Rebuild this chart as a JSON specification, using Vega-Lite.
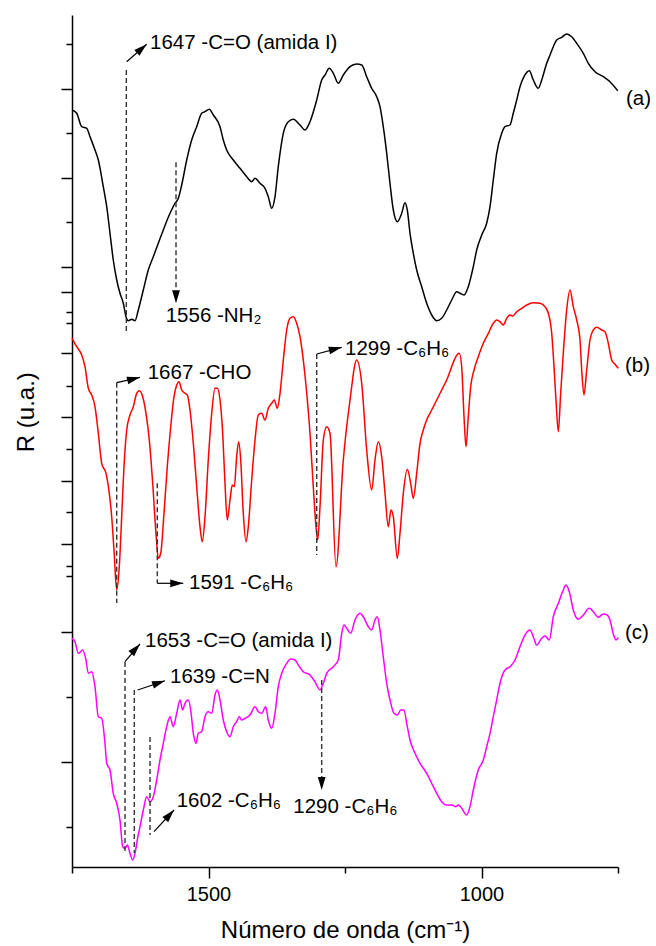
{
  "$schema": "https://vega.github.io/schema/vega-lite/v6.json",
  "width": 546,
  "height": 852,
  "autosize": {"type": "none"},
  "padding": {"left": 72, "top": 15, "right": 38, "bottom": 79},
  "background": "white",
  "config": {"view": {"stroke": null}, "font": "Liberation Sans"},
  "datasets": {
    "spectra": [
      {"s":"a","wn":1750,"R":757},{"s":"a","wn":1741.4,"R":753.7},{"s":"a","wn":1732.2,"R":740.3},{"s":"a","wn":1723.1,"R":738.7},{"s":"a","wn":1717,"R":730.3},{"s":"a","wn":1707.9,"R":717},{"s":"a","wn":1701.8,"R":707},{"s":"a","wn":1692.7,"R":680.3},{"s":"a","wn":1686.4,"R":660.3},{"s":"a","wn":1680.4,"R":633.7},{"s":"a","wn":1674.4,"R":607},{"s":"a","wn":1668.1,"R":587},{"s":"a","wn":1662.1,"R":573.7},{"s":"a","wn":1656,"R":563.7},{"s":"a","wn":1651.1,"R":550.3},{"s":"a","wn":1646.9,"R":546.3},{"s":"a","wn":1640.7,"R":547.7},{"s":"a","wn":1634.6,"R":546.3},{"s":"a","wn":1628.6,"R":557},{"s":"a","wn":1619.4,"R":577},{"s":"a","wn":1610.3,"R":597},{"s":"a","wn":1601.1,"R":610.3},{"s":"a","wn":1591.9,"R":623.7},{"s":"a","wn":1582.8,"R":637},{"s":"a","wn":1570.5,"R":653.7},{"s":"a","wn":1561.4,"R":663.7},{"s":"a","wn":1555.3,"R":668.7},{"s":"a","wn":1549.1,"R":682},{"s":"a","wn":1539.9,"R":707},{"s":"a","wn":1530.8,"R":727},{"s":"a","wn":1521.6,"R":740.3},{"s":"a","wn":1512.5,"R":753.7},{"s":"a","wn":1506.4,"R":755.3},{"s":"a","wn":1498.5,"R":757.7},{"s":"a","wn":1491.2,"R":752},{"s":"a","wn":1478.9,"R":740.3},{"s":"a","wn":1472.9,"R":727},{"s":"a","wn":1466.7,"R":717},{"s":"a","wn":1454.6,"R":707},{"s":"a","wn":1442.3,"R":698.7},{"s":"a","wn":1430,"R":690.3},{"s":"a","wn":1420.9,"R":685.3},{"s":"a","wn":1414.8,"R":688.7},{"s":"a","wn":1405.7,"R":683.7},{"s":"a","wn":1396.5,"R":678.7},{"s":"a","wn":1390.5,"R":670.3},{"s":"a","wn":1384.2,"R":658.7},{"s":"a","wn":1378.2,"R":670.3},{"s":"a","wn":1372.2,"R":700.3},{"s":"a","wn":1363,"R":733.7},{"s":"a","wn":1353.8,"R":745.3},{"s":"a","wn":1344.7,"R":747.7},{"s":"a","wn":1332.4,"R":742},{"s":"a","wn":1323.3,"R":737},{"s":"a","wn":1314.1,"R":745.3},{"s":"a","wn":1301.8,"R":767},{"s":"a","wn":1292.7,"R":787},{"s":"a","wn":1286.6,"R":792},{"s":"a","wn":1278.8,"R":798.7},{"s":"a","wn":1271.4,"R":793.7},{"s":"a","wn":1262.3,"R":783.7},{"s":"a","wn":1253.1,"R":792},{"s":"a","wn":1240.8,"R":800.3},{"s":"a","wn":1228.6,"R":803},{"s":"a","wn":1219.4,"R":802},{"s":"a","wn":1210.3,"R":790.3},{"s":"a","wn":1201.1,"R":778.7},{"s":"a","wn":1191.9,"R":770.3},{"s":"a","wn":1185.9,"R":760.3},{"s":"a","wn":1179.9,"R":740.3},{"s":"a","wn":1173.6,"R":713.7},{"s":"a","wn":1167.6,"R":683.7},{"s":"a","wn":1161.5,"R":657},{"s":"a","wn":1154.2,"R":645.3},{"s":"a","wn":1146.2,"R":653.7},{"s":"a","wn":1140.1,"R":664.3},{"s":"a","wn":1135.9,"R":657},{"s":"a","wn":1130.9,"R":633.7},{"s":"a","wn":1124.9,"R":613.7},{"s":"a","wn":1118.7,"R":597},{"s":"a","wn":1109.5,"R":580.3},{"s":"a","wn":1100.4,"R":563.7},{"s":"a","wn":1091.2,"R":552},{"s":"a","wn":1082,"R":546.3},{"s":"a","wn":1072.9,"R":548.7},{"s":"a","wn":1063.7,"R":557},{"s":"a","wn":1054.6,"R":567},{"s":"a","wn":1045.4,"R":575.3},{"s":"a","wn":1039.4,"R":573.7},{"s":"a","wn":1032,"R":572},{"s":"a","wn":1024.2,"R":580.3},{"s":"a","wn":1015,"R":600.3},{"s":"a","wn":1008.8,"R":617},{"s":"a","wn":999.6,"R":632},{"s":"a","wn":990.5,"R":643.7},{"s":"a","wn":984.4,"R":660.3},{"s":"a","wn":978.4,"R":687},{"s":"a","wn":972.2,"R":713.7},{"s":"a","wn":963,"R":733.7},{"s":"a","wn":957,"R":740.3},{"s":"a","wn":947.8,"R":742},{"s":"a","wn":941.8,"R":753.7},{"s":"a","wn":935.5,"R":767},{"s":"a","wn":929.5,"R":780.3},{"s":"a","wn":922.2,"R":790.3},{"s":"a","wn":912.4,"R":796.3},{"s":"a","wn":905.1,"R":787},{"s":"a","wn":896,"R":778.7},{"s":"a","wn":889.7,"R":787},{"s":"a","wn":880.6,"R":803.7},{"s":"a","wn":874.5,"R":812},{"s":"a","wn":868.5,"R":820.3},{"s":"a","wn":862.3,"R":827},{"s":"a","wn":853.1,"R":829.7},{"s":"a","wn":844,"R":833},{"s":"a","wn":834.8,"R":830.3},{"s":"a","wn":825.6,"R":823.7},{"s":"a","wn":813.5,"R":813.7},{"s":"a","wn":804.4,"R":803.7},{"s":"a","wn":792.1,"R":795.3},{"s":"a","wn":776.9,"R":790.3},{"s":"a","wn":764.7,"R":785.3},{"s":"a","wn":750.5,"R":776.3},
      {"s":"b","wn":1750,"R":528.7},{"s":"b","wn":1741.4,"R":520.3},{"s":"b","wn":1732.2,"R":512},{"s":"b","wn":1726.2,"R":500.3},{"s":"b","wn":1720.1,"R":478.7},{"s":"b","wn":1713.9,"R":472},{"s":"b","wn":1707.9,"R":460.3},{"s":"b","wn":1701.8,"R":433.7},{"s":"b","wn":1695.6,"R":403.7},{"s":"b","wn":1687.7,"R":393.7},{"s":"b","wn":1681.7,"R":373.7},{"s":"b","wn":1677.3,"R":350.3},{"s":"b","wn":1673.1,"R":317},{"s":"b","wn":1668.1,"R":277},{"s":"b","wn":1663.4,"R":300.3},{"s":"b","wn":1659,"R":350.3},{"s":"b","wn":1654.8,"R":400.3},{"s":"b","wn":1649.8,"R":437},{"s":"b","wn":1643.8,"R":452},{"s":"b","wn":1637.7,"R":460.3},{"s":"b","wn":1631.5,"R":473.7},{"s":"b","wn":1626.7,"R":476.3},{"s":"b","wn":1620.5,"R":470.3},{"s":"b","wn":1614.5,"R":453.7},{"s":"b","wn":1608.4,"R":427},{"s":"b","wn":1602.2,"R":383.7},{"s":"b","wn":1596.2,"R":333.7},{"s":"b","wn":1591.9,"R":308.7},{"s":"b","wn":1587.5,"R":313.7},{"s":"b","wn":1581.5,"R":353.7},{"s":"b","wn":1575.5,"R":400.3},{"s":"b","wn":1569.2,"R":440.3},{"s":"b","wn":1563.2,"R":470.3},{"s":"b","wn":1558.2,"R":482},{"s":"b","wn":1554,"R":485.3},{"s":"b","wn":1549.1,"R":477},{"s":"b","wn":1543,"R":473.7},{"s":"b","wn":1538.8,"R":472},{"s":"b","wn":1533.9,"R":457},{"s":"b","wn":1527.8,"R":423.7},{"s":"b","wn":1521.6,"R":380.3},{"s":"b","wn":1515.6,"R":340.3},{"s":"b","wn":1511.4,"R":325.3},{"s":"b","wn":1506.4,"R":350.3},{"s":"b","wn":1500.4,"R":407},{"s":"b","wn":1494.1,"R":453.7},{"s":"b","wn":1488.1,"R":478.7},{"s":"b","wn":1483.9,"R":478.7},{"s":"b","wn":1478.9,"R":467},{"s":"b","wn":1474,"R":433.7},{"s":"b","wn":1469.8,"R":383.7},{"s":"b","wn":1465.6,"R":347},{"s":"b","wn":1460.6,"R":367},{"s":"b","wn":1456.4,"R":382},{"s":"b","wn":1452.7,"R":380.3},{"s":"b","wn":1448.4,"R":410.3},{"s":"b","wn":1444.7,"R":425.3},{"s":"b","wn":1441,"R":407},{"s":"b","wn":1436.3,"R":353.7},{"s":"b","wn":1431.3,"R":325.3},{"s":"b","wn":1427.1,"R":340.3},{"s":"b","wn":1420.9,"R":387},{"s":"b","wn":1414.8,"R":427},{"s":"b","wn":1408.8,"R":452},{"s":"b","wn":1402.6,"R":453.7},{"s":"b","wn":1396.5,"R":447},{"s":"b","wn":1390.5,"R":458.7},{"s":"b","wn":1384.2,"R":463.7},{"s":"b","wn":1379.5,"R":467},{"s":"b","wn":1374,"R":458.7},{"s":"b","wn":1369,"R":473.7},{"s":"b","wn":1363,"R":507},{"s":"b","wn":1356.8,"R":537},{"s":"b","wn":1350.7,"R":548.7},{"s":"b","wn":1344.7,"R":550.3},{"s":"b","wn":1338.5,"R":543.7},{"s":"b","wn":1332.4,"R":530.3},{"s":"b","wn":1326.4,"R":507},{"s":"b","wn":1320.1,"R":473.7},{"s":"b","wn":1314.1,"R":433.7},{"s":"b","wn":1308.1,"R":380.3},{"s":"b","wn":1303.1,"R":340.3},{"s":"b","wn":1300,"R":327},{"s":"b","wn":1295.8,"R":360.3},{"s":"b","wn":1289.7,"R":427},{"s":"b","wn":1283.5,"R":440.3},{"s":"b","wn":1277.5,"R":433.7},{"s":"b","wn":1266.5,"R":300.3},{"s":"b","wn":1253.1,"R":407},{"s":"b","wn":1240.8,"R":467},{"s":"b","wn":1228.6,"R":507},{"s":"b","wn":1219.4,"R":483.7},{"s":"b","wn":1210.3,"R":417},{"s":"b","wn":1201.1,"R":377},{"s":"b","wn":1195.1,"R":407},{"s":"b","wn":1189,"R":425.3},{"s":"b","wn":1182.8,"R":410.3},{"s":"b","wn":1176.7,"R":373.7},{"s":"b","wn":1170.7,"R":340.3},{"s":"b","wn":1165.8,"R":357},{"s":"b","wn":1161.5,"R":350.3},{"s":"b","wn":1154.2,"R":308.7},{"s":"b","wn":1149.3,"R":333.7},{"s":"b","wn":1143.2,"R":373.7},{"s":"b","wn":1135.9,"R":397.7},{"s":"b","wn":1129.7,"R":383.7},{"s":"b","wn":1124.9,"R":368.7},{"s":"b","wn":1118.7,"R":393.7},{"s":"b","wn":1112.6,"R":423.7},{"s":"b","wn":1106.6,"R":437},{"s":"b","wn":1100.4,"R":447},{"s":"b","wn":1091.2,"R":457},{"s":"b","wn":1082,"R":467},{"s":"b","wn":1072.9,"R":477},{"s":"b","wn":1063.7,"R":487},{"s":"b","wn":1054.6,"R":500.3},{"s":"b","wn":1048.5,"R":508.7},{"s":"b","wn":1040.7,"R":513.7},{"s":"b","wn":1036.3,"R":500.3},{"s":"b","wn":1032,"R":450.3},{"s":"b","wn":1028.4,"R":420.3},{"s":"b","wn":1024.2,"R":450.3},{"s":"b","wn":1019.8,"R":480.3},{"s":"b","wn":1013.7,"R":497},{"s":"b","wn":1005.9,"R":510.3},{"s":"b","wn":996.7,"R":523.7},{"s":"b","wn":987.5,"R":533.7},{"s":"b","wn":978.4,"R":543.7},{"s":"b","wn":972.2,"R":547},{"s":"b","wn":966.1,"R":545.3},{"s":"b","wn":960.1,"R":542},{"s":"b","wn":953.8,"R":548.7},{"s":"b","wn":947.8,"R":552},{"s":"b","wn":942.8,"R":551},{"s":"b","wn":935.5,"R":555.3},{"s":"b","wn":926.4,"R":558.7},{"s":"b","wn":917.2,"R":562},{"s":"b","wn":905.1,"R":564.3},{"s":"b","wn":892.9,"R":563.7},{"s":"b","wn":883.7,"R":560.3},{"s":"b","wn":877.6,"R":553.7},{"s":"b","wn":871.4,"R":533.7},{"s":"b","wn":867.2,"R":500.3},{"s":"b","wn":863.6,"R":467},{"s":"b","wn":859.3,"R":435.3},{"s":"b","wn":855,"R":473.7},{"s":"b","wn":850.2,"R":513.7},{"s":"b","wn":844,"R":557},{"s":"b","wn":837.9,"R":577},{"s":"b","wn":831.9,"R":560.3},{"s":"b","wn":825.6,"R":547},{"s":"b","wn":819.6,"R":527},{"s":"b","wn":816.5,"R":497},{"s":"b","wn":812.3,"R":472},{"s":"b","wn":807.3,"R":497},{"s":"b","wn":801.3,"R":527},{"s":"b","wn":795.2,"R":537},{"s":"b","wn":789,"R":539.7},{"s":"b","wn":779.8,"R":537},{"s":"b","wn":773.8,"R":535.3},{"s":"b","wn":767.8,"R":523.7},{"s":"b","wn":761.5,"R":507},{"s":"b","wn":755.5,"R":502.7},{"s":"b","wn":749.4,"R":498.7},
      {"s":"c","wn":1750,"R":228.7},{"s":"c","wn":1744.5,"R":225.3},{"s":"c","wn":1738.5,"R":213.7},{"s":"c","wn":1730.4,"R":217},{"s":"c","wn":1724.4,"R":207},{"s":"c","wn":1720.1,"R":193.7},{"s":"c","wn":1713.9,"R":195.3},{"s":"c","wn":1707.9,"R":180.3},{"s":"c","wn":1701.8,"R":150.3},{"s":"c","wn":1695.6,"R":148.7},{"s":"c","wn":1689.6,"R":123.7},{"s":"c","wn":1686.4,"R":103.7},{"s":"c","wn":1680.4,"R":97},{"s":"c","wn":1674.4,"R":73.7},{"s":"c","wn":1668.1,"R":63.7},{"s":"c","wn":1662.1,"R":47},{"s":"c","wn":1657.1,"R":20.3},{"s":"c","wn":1652.9,"R":18.7},{"s":"c","wn":1648.7,"R":22},{"s":"c","wn":1643.8,"R":13.7},{"s":"c","wn":1638.8,"R":7},{"s":"c","wn":1634.6,"R":13.7},{"s":"c","wn":1630.4,"R":27},{"s":"c","wn":1625.5,"R":40.3},{"s":"c","wn":1619.4,"R":57},{"s":"c","wn":1613.2,"R":70.3},{"s":"c","wn":1607.1,"R":65.3},{"s":"c","wn":1601.1,"R":70.3},{"s":"c","wn":1594.9,"R":87},{"s":"c","wn":1588.8,"R":107},{"s":"c","wn":1582.8,"R":123.7},{"s":"c","wn":1576.6,"R":140.3},{"s":"c","wn":1570.5,"R":150.3},{"s":"c","wn":1564.5,"R":140.3},{"s":"c","wn":1558.2,"R":153.7},{"s":"c","wn":1552.2,"R":167},{"s":"c","wn":1547.3,"R":157},{"s":"c","wn":1543,"R":163.7},{"s":"c","wn":1537,"R":167},{"s":"c","wn":1532.6,"R":157},{"s":"c","wn":1527.8,"R":133.7},{"s":"c","wn":1522.9,"R":123.7},{"s":"c","wn":1518.7,"R":133.7},{"s":"c","wn":1512.5,"R":135.3},{"s":"c","wn":1506.4,"R":150.3},{"s":"c","wn":1500.4,"R":155.3},{"s":"c","wn":1494.1,"R":153.7},{"s":"c","wn":1488.1,"R":172},{"s":"c","wn":1483.9,"R":177},{"s":"c","wn":1478.9,"R":167},{"s":"c","wn":1472.9,"R":147},{"s":"c","wn":1466.7,"R":135.3},{"s":"c","wn":1460.6,"R":130.3},{"s":"c","wn":1454.6,"R":140.3},{"s":"c","wn":1448.4,"R":145.3},{"s":"c","wn":1443.6,"R":150.3},{"s":"c","wn":1439.2,"R":147},{"s":"c","wn":1433.2,"R":148.7},{"s":"c","wn":1424,"R":152},{"s":"c","wn":1414.8,"R":160.3},{"s":"c","wn":1408.8,"R":155.3},{"s":"c","wn":1402.6,"R":153.7},{"s":"c","wn":1395.2,"R":160.3},{"s":"c","wn":1390.5,"R":147},{"s":"c","wn":1384.2,"R":138.7},{"s":"c","wn":1378.2,"R":153.7},{"s":"c","wn":1372.2,"R":180.3},{"s":"c","wn":1365.9,"R":193.7},{"s":"c","wn":1356.8,"R":203.7},{"s":"c","wn":1349.5,"R":208},{"s":"c","wn":1341.6,"R":207},{"s":"c","wn":1335.5,"R":202},{"s":"c","wn":1326.4,"R":195.3},{"s":"c","wn":1314.1,"R":192},{"s":"c","wn":1305,"R":185.3},{"s":"c","wn":1295.8,"R":177},{"s":"c","wn":1289.7,"R":183.7},{"s":"c","wn":1283.5,"R":193.7},{"s":"c","wn":1271.4,"R":200.3},{"s":"c","wn":1262.3,"R":207},{"s":"c","wn":1256,"R":233.7},{"s":"c","wn":1251.8,"R":242},{"s":"c","wn":1246.9,"R":238.7},{"s":"c","wn":1239.6,"R":233.7},{"s":"c","wn":1231.7,"R":247},{"s":"c","wn":1222.5,"R":253.7},{"s":"c","wn":1216.5,"R":250.3},{"s":"c","wn":1207.3,"R":240.3},{"s":"c","wn":1201.1,"R":237},{"s":"c","wn":1195.1,"R":247},{"s":"c","wn":1190.8,"R":250.3},{"s":"c","wn":1185.9,"R":237},{"s":"c","wn":1179.9,"R":210.3},{"s":"c","wn":1173.6,"R":183.7},{"s":"c","wn":1167.6,"R":167},{"s":"c","wn":1160.3,"R":153.7},{"s":"c","wn":1154.2,"R":152},{"s":"c","wn":1148,"R":157},{"s":"c","wn":1141.9,"R":157},{"s":"c","wn":1137,"R":143.7},{"s":"c","wn":1130.9,"R":127},{"s":"c","wn":1121.8,"R":113.7},{"s":"c","wn":1112.6,"R":103.7},{"s":"c","wn":1100.4,"R":93.7},{"s":"c","wn":1091.2,"R":83.7},{"s":"c","wn":1082,"R":73.7},{"s":"c","wn":1072.9,"R":65.3},{"s":"c","wn":1063.7,"R":62},{"s":"c","wn":1054.6,"R":62},{"s":"c","wn":1046.7,"R":60.3},{"s":"c","wn":1042.5,"R":62},{"s":"c","wn":1036.3,"R":58.7},{"s":"c","wn":1027.1,"R":52},{"s":"c","wn":1021.1,"R":60.3},{"s":"c","wn":1015,"R":77},{"s":"c","wn":1005.9,"R":97},{"s":"c","wn":996.7,"R":107},{"s":"c","wn":990.5,"R":120.3},{"s":"c","wn":984.4,"R":133.7},{"s":"c","wn":978.4,"R":150.3},{"s":"c","wn":972.2,"R":167},{"s":"c","wn":966.1,"R":183.7},{"s":"c","wn":957,"R":197},{"s":"c","wn":947.8,"R":200.3},{"s":"c","wn":938.6,"R":207},{"s":"c","wn":929.5,"R":220.3},{"s":"c","wn":920.3,"R":232},{"s":"c","wn":911.2,"R":237},{"s":"c","wn":905.1,"R":230.3},{"s":"c","wn":898.9,"R":222},{"s":"c","wn":889.7,"R":228.7},{"s":"c","wn":883.7,"R":231},{"s":"c","wn":875.8,"R":227},{"s":"c","wn":868.5,"R":250.3},{"s":"c","wn":859.3,"R":263.7},{"s":"c","wn":850.2,"R":277},{"s":"c","wn":845.2,"R":282},{"s":"c","wn":839.2,"R":275.3},{"s":"c","wn":831.9,"R":257},{"s":"c","wn":822.7,"R":247.7},{"s":"c","wn":813.5,"R":252},{"s":"c","wn":802.6,"R":258.7},{"s":"c","wn":795.2,"R":255.3},{"s":"c","wn":786.1,"R":249.7},{"s":"c","wn":776.9,"R":253},{"s":"c","wn":769.6,"R":252},{"s":"c","wn":764.7,"R":247},{"s":"c","wn":759.7,"R":235.3},{"s":"c","wn":753.7,"R":227},{"s":"c","wn":749.4,"R":229.7}
    ],
    "dashes": [
      {"wn":1650.5,"top":797,"bottom":534},
      {"wn":1559.5,"top":704.7,"bottom":577},
      {"wn":1668.1,"top":484.3,"bottom":264},
      {"wn":1593.8,"top":383.7,"bottom":283.7},
      {"wn":1301.8,"top":513,"bottom":312},
      {"wn":1652.9,"top":205,"bottom":14},
      {"wn":1635.9,"top":177,"bottom":14},
      {"wn":1607.1,"top":130,"bottom":32},
      {"wn":1292.7,"top":187,"bottom":90}
    ],
    "shafts": [
      {"wn":1649.9,"R":805.3,"wn2":1613.2,"R2":822.7},
      {"wn":1668.2,"R":484.3,"wn2":1625.5,"R2":489.7},
      {"wn":1593.8,"R":283.7,"wn2":1546.2,"R2":283.7},
      {"wn":1301.8,"R":513,"wn2":1256,"R2":519.7},
      {"wn":1652.9,"R":205.3,"wn2":1625.5,"R2":223},
      {"wn":1629.7,"R":177,"wn2":1579.7,"R2":186.3},
      {"wn":1599.8,"R":35.3,"wn2":1563.2,"R2":57}
    ],
    "heads": [
      {"id":"h1","wn":1613.2,"R":822.7},
      {"id":"h2","wn":1559.5,"R":563.7},
      {"id":"h3","wn":1625.5,"R":489.7},
      {"id":"h4","wn":1546.2,"R":283.7},
      {"id":"h5","wn":1256,"R":519.7},
      {"id":"h6","wn":1625.5,"R":223},
      {"id":"h7","wn":1579.7,"R":186.3},
      {"id":"h8","wn":1563.2,"R":57},
      {"id":"h9","wn":1292.7,"R":77}
    ],
    "labels": [
      {"wn":1607.1,"R":823.7,"label":"1647 -C=O (amida I)"},
      {"wn":1578.4,"R":551.5,"label":"1556 -NH₂"},
      {"wn":1611.4,"R":494.5,"label":"1667 -CHO"},
      {"wn":1535.7,"R":283.7,"label":"1591 -C₆H₆"},
      {"wn":1250,"R":518,"label":"1299 -C₆H₆"},
      {"wn":1616.3,"R":226,"label":"1653 -C=O (amida I)"},
      {"wn":1570.5,"R":190.3,"label":"1639 -C=N"},
      {"wn":1558.2,"R":66,"label":"1602 -C₆H₆"},
      {"wn":1344.7,"R":60.3,"label":"1290 -C₆H₆"},
      {"wn":735.3,"R":768,"label":"(a)"},
      {"wn":737.2,"R":501,"label":"(b)"},
      {"wn":737.2,"R":234.5,"label":"(c)"}
    ]
  },
  "layer": [
    {
      "data": {"name": "spectra"},
      "mark": {"type": "line", "interpolate": "monotone", "strokeWidth": 1.5},
      "encoding": {
        "x": {
          "field": "wn", "type": "quantitative",
          "title": "Número de onda (cm⁻¹)",
          "scale": {"domain": [1750, 750], "nice": false, "zero": false},
          "axis": {
            "values": [1750, 1500, 1250, 1000, 750],
            "format": "d",
            "labelExpr": "datum.value == 1500 || datum.value == 1000 ? datum.label : ''",
            "grid": false,
            "domainColor": "black", "domainWidth": 1.5,
            "tickColor": "black", "tickWidth": 1.5,
            "tickSize": {"condition": {"test": "datum.value == 1500 || datum.value == 1000", "value": 11}, "value": 6},
            "labelFontSize": 20, "labelFont": "Liberation Sans", "labelColor": "black",
            "labelPadding": 6, "labelFlush": false, "labelOverlap": false,
            "titleFontSize": 24, "titleFont": "Liberation Sans", "titleFontWeight": "normal", "titleColor": "black",
            "titleY": 70, "titleBaseline": "alphabetic"
          }
        },
        "y": {
          "field": "R", "type": "quantitative",
          "title": "R (u.a.)",
          "scale": {"domain": [0, 852], "nice": false, "zero": false},
          "axis": {
            "values": [823, 778, 734, 689, 645, 600, 575, 555, 544, 514, 481, 450, 418, 386, 355, 323, 301, 291, 235, 170, 105, 40],
            "labels": false,
            "grid": false,
            "domainColor": "black", "domainWidth": 1.5,
            "tickColor": "black", "tickWidth": 1.5,
            "tickSize": {"condition": {"test": "indexof([778, 689, 600, 575, 514, 450, 386, 323, 235, 105], datum.value) >= 0", "value": 11}, "value": 6},
            "titleFontSize": 24, "titleFont": "Liberation Sans", "titleFontWeight": "normal", "titleColor": "black",
            "titleAngle": 270, "titleX": -38.7, "titleY": 396.7, "titleAlign": "center", "titleBaseline": "alphabetic"
          }
        },
        "color": {
          "field": "s", "type": "nominal",
          "scale": {"domain": ["a", "b", "c"], "range": ["#000000", "#ff0000", "#ff00ff"]},
          "legend": null
        }
      }
    },
    {
      "data": {"name": "dashes"},
      "mark": {"type": "rule", "color": "#333333", "strokeWidth": 1.4, "strokeDash": [5, 3]},
      "encoding": {
        "x": {"field": "wn", "type": "quantitative", "title": "Número de onda (cm⁻¹)"},
        "y": {"field": "top", "type": "quantitative", "title": "R (u.a.)"},
        "y2": {"field": "bottom"}
      }
    },
    {
      "data": {"name": "shafts"},
      "mark": {"type": "rule", "color": "black", "strokeWidth": 1.2},
      "encoding": {
        "x": {"field": "wn", "type": "quantitative", "title": "Número de onda (cm⁻¹)"},
        "y": {"field": "R", "type": "quantitative", "title": "R (u.a.)"},
        "x2": {"field": "wn2"},
        "y2": {"field": "R2"}
      }
    },
    {
      "data": {"name": "heads"},
      "transform": [{"filter": "datum.id == 'h1'"}],
      "mark": {"type": "point", "shape": "M0,0L0.6,2L-0.6,2Z", "size": 169, "filled": true, "color": "black", "opacity": 1, "strokeWidth": 0, "angle": 49},
      "encoding": {"x": {"field": "wn", "type": "quantitative", "title": "Número de onda (cm⁻¹)"}, "y": {"field": "R", "type": "quantitative", "title": "R (u.a.)"}}
    },
    {
      "data": {"name": "heads"},
      "transform": [{"filter": "datum.id == 'h2' || datum.id == 'h9'"}],
      "mark": {"type": "point", "shape": "M0,0L0.6,2L-0.6,2Z", "size": 169, "filled": true, "color": "black", "opacity": 1, "strokeWidth": 0, "angle": 180},
      "encoding": {"x": {"field": "wn", "type": "quantitative", "title": "Número de onda (cm⁻¹)"}, "y": {"field": "R", "type": "quantitative", "title": "R (u.a.)"}}
    },
    {
      "data": {"name": "heads"},
      "transform": [{"filter": "datum.id == 'h3' || datum.id == 'h5'"}],
      "mark": {"type": "point", "shape": "M0,0L0.6,2L-0.6,2Z", "size": 169, "filled": true, "color": "black", "opacity": 1, "strokeWidth": 0, "angle": 76},
      "encoding": {"x": {"field": "wn", "type": "quantitative", "title": "Número de onda (cm⁻¹)"}, "y": {"field": "R", "type": "quantitative", "title": "R (u.a.)"}}
    },
    {
      "data": {"name": "heads"},
      "transform": [{"filter": "datum.id == 'h4'"}],
      "mark": {"type": "point", "shape": "M0,0L0.6,2L-0.6,2Z", "size": 169, "filled": true, "color": "black", "opacity": 1, "strokeWidth": 0, "angle": 90},
      "encoding": {"x": {"field": "wn", "type": "quantitative", "title": "Número de onda (cm⁻¹)"}, "y": {"field": "R", "type": "quantitative", "title": "R (u.a.)"}}
    },
    {
      "data": {"name": "heads"},
      "transform": [{"filter": "datum.id == 'h6' || datum.id == 'h8'"}],
      "mark": {"type": "point", "shape": "M0,0L0.6,2L-0.6,2Z", "size": 169, "filled": true, "color": "black", "opacity": 1, "strokeWidth": 0, "angle": 42},
      "encoding": {"x": {"field": "wn", "type": "quantitative", "title": "Número de onda (cm⁻¹)"}, "y": {"field": "R", "type": "quantitative", "title": "R (u.a.)"}}
    },
    {
      "data": {"name": "heads"},
      "transform": [{"filter": "datum.id == 'h7'"}],
      "mark": {"type": "point", "shape": "M0,0L0.6,2L-0.6,2Z", "size": 169, "filled": true, "color": "black", "opacity": 1, "strokeWidth": 0, "angle": 71},
      "encoding": {"x": {"field": "wn", "type": "quantitative", "title": "Número de onda (cm⁻¹)"}, "y": {"field": "R", "type": "quantitative", "title": "R (u.a.)"}}
    },
    {
      "data": {"name": "labels"},
      "mark": {"type": "text", "align": "left", "baseline": "middle", "fontSize": 20.5, "font": "Liberation Sans", "color": "black"},
      "encoding": {
        "x": {"field": "wn", "type": "quantitative", "title": "Número de onda (cm⁻¹)"},
        "y": {"field": "R", "type": "quantitative", "title": "R (u.a.)"},
        "text": {"field": "label"}
      }
    }
  ]
}
